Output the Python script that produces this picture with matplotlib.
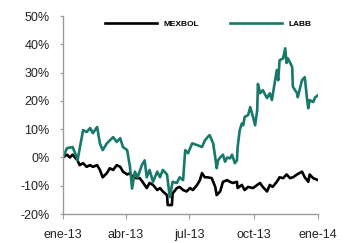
import numpy as np
import pandas as pd
import matplotlib
matplotlib.use("Agg")
import matplotlib.pyplot as plt
import matplotlib.dates as mdates

# days since 2013-01-01 and cumulative return (%)
labb_days = [0, 6, 14, 20, 21, 29, 34, 39, 43, 49, 53, 57, 63, 67, 72, 77, 82, 86,
             92, 96, 99, 103, 107, 113, 117, 120, 124, 129, 135, 139, 143, 149, 153,
             157, 163, 167, 172, 175, 179, 185, 192, 199, 203, 207, 210, 215, 218,
             220, 222, 225, 229, 232, 235, 239, 242, 246, 249, 250, 253, 256, 258,
             260, 265, 268, 272, 275, 278, 279, 282, 286, 292, 296, 299, 306, 308,
             310, 315, 318, 320, 322, 328, 329, 335, 336, 342, 346, 349, 351, 353,
             358, 361, 365]
labb_vals = [0, 3.3, 3.7, 0, -1, 9.7, 9, 10.4, 8.6, 10.8, 5, 2.6, 5, 6, 7.2, 5.5, 6.8,
             3.7, 2.6, -3.3, -11, -5, -7, -2.7, -1, -7, -4.4, -8.6, -5, -7, -4.4, -6,
             -14, -8.6, -9, -7, -8, 2.6, 1.5, 5, 4.4, 3.7, 6, 7.2, 7.9, 5, 0, -3.8,
             -1, 0, 1, -1.5, 0, -0.3, 1, -2, -1, 3.7, 9.7, 12, 11.4, 14.3, 15, 17.8,
             14.3, 11.4, 16.7, 26, 22.7, 23.8, 21, 22.7, 20.3, 30.9, 27.3, 34.4, 35,
             38.6, 33.4, 35, 32, 25, 22.7, 21.3, 27.3, 28.4, 21.3, 17.4, 20.3, 19.6,
             21.3, 22]

mex_days = [0, 6, 10, 14, 21, 24, 29, 34, 39, 43, 49, 53, 57, 63, 67, 72, 77, 82, 86,
            92, 96, 100, 106, 110, 114, 120, 124, 129, 135, 139, 143, 149, 150, 156,
            157, 163, 167, 172, 177, 182, 186, 192, 196, 199, 203, 207, 213, 218, 220,
            225, 229, 235, 239, 243, 249, 250, 256, 260, 265, 272, 278, 282, 286, 292,
            296, 300, 306, 310, 315, 320, 325, 329, 335, 342, 346, 351, 353, 358, 365]
mex_vals = [0, 1, 0, 1, -1, -2.7, -2, -3.3, -2.7, -3.3, -2.7, -4.4, -7, -5.5, -3.8,
            -4.4, -2.7, -3.3, -5, -6, -5.5, -7, -7.3, -7.3, -8.6, -10.8, -9, -9.7,
            -11.5, -10.8, -12, -13.3, -16.8, -16.8, -12.7, -10.8, -10.4, -11.5, -12,
            -10.8, -11.5, -9.7, -8, -5.5, -7, -7, -7.3, -10.4, -13.3, -12, -8.6, -8,
            -8.6, -9, -8.6, -10.8, -9.7, -11.5, -10.4, -10.8, -9.7, -9, -10.4, -12,
            -9.7, -10.4, -8.6, -7, -7.3, -6, -7.3, -7, -6, -5, -7, -8.6, -6, -7.3, -8]

tick_dates = ["2013-01-01", "2013-04-01", "2013-07-01", "2013-10-01", "2014-01-01"]
tick_labels = ["ene-13", "abr-13", "jul-13", "oct-13", "ene-14"]
y_ticks = [-20, -10, 0, 10, 20, 30, 40, 50]

start = pd.Timestamp("2013-01-01")
labb_x = start + pd.to_timedelta(labb_days, unit="D")
mex_x = start + pd.to_timedelta(mex_days, unit="D")

plt.rcParams["font.family"] = ["Liberation Sans", "DejaVu Sans"]

fig = plt.figure(figsize=(3.53, 2.43), dpi=100)
ax = fig.add_axes([0.178, 0.119, 0.723, 0.815])

ax.plot(mex_x, mex_vals, color="black", linewidth=1.9, label="MEXBOL")
ax.plot(labb_x, labb_vals, color="#16796A", linewidth=1.9, label="LABB")

ax.set_xlim(pd.Timestamp(tick_dates[0]), pd.Timestamp(tick_dates[-1]))
ax.set_ylim(-20, 50)
ax.set_xticks(pd.to_datetime(tick_dates))
ax.set_xticklabels(tick_labels)
ax.set_yticks(y_ticks)
ax.set_yticklabels([f"{v}%" for v in y_ticks])

for side in ["top", "right"]:
    ax.spines[side].set_visible(False)
for side in ["left", "bottom"]:
    ax.spines[side].set_color("#9a9a9a")
    ax.spines[side].set_linewidth(1.0)

ax.tick_params(axis="y", length=2.5, pad=7, colors="#9a9a9a", labelcolor="#222222",
               labelsize=9)
ax.tick_params(axis="x", length=3.8, pad=7, colors="#9a9a9a", labelcolor="#222222",
               labelsize=9)

leg = ax.legend(loc="center", bbox_to_anchor=(0.57, 0.96), ncol=2, frameon=False,
                prop={"size": 6, "weight": "bold"}, handlelength=6.2,
                handletextpad=0.85, columnspacing=3.7)

fig.savefig("out.png", dpi=100)
